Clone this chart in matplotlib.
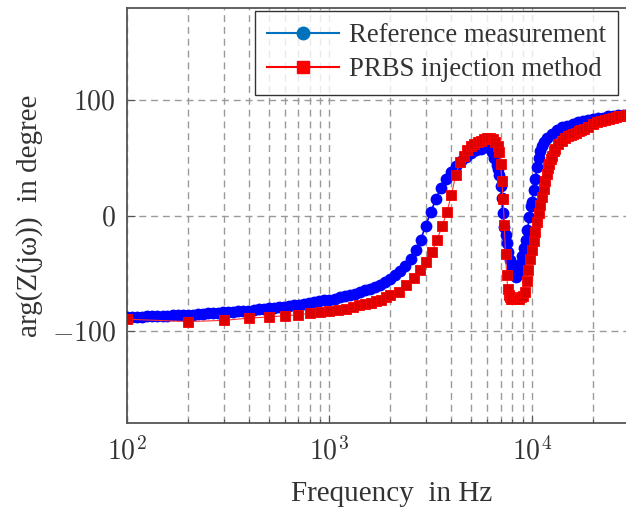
import math
import matplotlib
matplotlib.use("Agg")
import matplotlib.pyplot as plt
from matplotlib.lines import Line2D
from matplotlib.ticker import FixedLocator, FuncFormatter, LogLocator, NullFormatter

plt.rcParams['font.family'] = ['Liberation Serif', 'DejaVu Serif']
plt.rcParams['mathtext.fontset'] = 'cm'

# Reference measurement (blue)
ref_freq = [100, 106, 112, 119, 126, 133, 141, 150, 158, 168, 178, 188, 200, 211, 224, 237,
            251, 266, 282, 299, 316, 335, 355, 376, 398, 422, 447, 473, 501, 531, 562, 596,
            631, 668, 708, 750, 794, 841, 891, 944, 1000, 1059, 1122, 1189, 1259, 1334, 1413,
            1496, 1585, 1679, 1778, 1884, 1995, 2113, 2239, 2371, 2512, 2661, 2818, 2985, 3162,
            3350, 3548, 3758, 3981, 4217, 4467, 4732, 5012, 5309, 5623, 5957, 6310, 6500, 6683,
            6800, 6900, 7000, 7100, 7200, 7300, 7400, 7500, 7650, 7800, 7943, 8100, 8300, 8500,
            8700, 8900, 9100, 9300, 9500, 9700, 9900, 10000, 10200, 10400, 10600, 10800, 11000,
            11220, 11500, 11885, 12589, 13335, 14125, 14962, 15849, 16788, 17783, 18836, 19953,
            21135, 22387, 23714, 25119, 26607, 28184, 29854]
ref_phase = [-88, -88, -88, -88, -87.5, -87.5, -87, -87, -87, -86.5, -86.5, -86, -86, -86, -85.5, -85.5,
             -85, -85, -84.5, -84, -84, -83.5, -83, -83, -82.5, -82, -81.5, -81, -80.5, -80, -79.5, -79,
             -78.5, -78, -77.5, -76.5, -76, -75, -74.5, -73.5, -73, -72, -71, -70, -69, -68, -66.5,
             -65, -64, -62, -60, -58, -55, -52, -48, -44, -38, -30, -21, -9, 3,
             14, 24, 32, 38, 43, 47, 51, 54, 57, 58, 59, 55, 50, 44,
             40, 35, 26, 15, 2, -10, -17, -24, -32, -39, -45, -49, -53, -49,
             -42, -35, -28, -21, -13, -1, 8, 12, 22, 32, 42, 50, 56,
             60, 64, 67, 71, 74, 76.5, 78, 79.5, 81, 82, 83, 84,
             84.5, 85, 86, 86.5, 87, 87.5, 88]

# PRBS injection method (red)
prbs_freq = [100, 200, 300, 400, 500, 600, 700, 800, 900, 1000, 1100, 1200, 1300, 1400, 1500,
             1600, 1700, 1800, 1900, 2000, 2200, 2400, 2600, 2800, 3000, 3200, 3400, 3600, 3800,
             4000, 4200, 4400, 4600, 4800, 5000, 5200, 5400, 5600, 5800, 6000, 6200, 6400, 6600,
             6800, 6900, 7000, 7100, 7200, 7300, 7400, 7500, 7600, 7700, 7800, 7900, 8000, 8200,
             8400, 8600, 8800, 9000, 9200, 9400, 9600, 9800, 10000, 10200, 10400, 10600, 10800,
             11000, 11200, 11400, 11600, 11800, 12000, 12200, 12400, 12600, 12800, 13000, 13500,
             14000, 14500, 15000, 15500, 16000, 16500, 17000, 17500, 18000, 19000, 20000, 21000,
             22000, 23000, 24000, 25000, 26000, 27000, 28000, 29000, 30000]
prbs_phase = [-90, -92, -91, -89, -88, -87, -86, -85, -84, -83, -82, -81, -79, -78, -77,
              -76, -74, -73, -71, -69, -66, -60, -54, -47, -40, -32, -21, -9, 3,
              18, 35, 46, 52, 57, 60, 62, 64, 65, 66, 67, 67, 66, 64,
              60, 55, 45, 30, 14, -8, -33, -52, -64, -69, -71, -72, -72, -72,
              -72, -72, -71, -70, -66, -57, -47, -38, -30, -22, -14, -6, 2,
              9, 16, 23, 30, 36, 41, 45, 49, 52, 56, 58, 62,
              65, 67, 69, 70, 71, 72, 73, 74, 75, 77, 79, 81,
              82, 83, 84, 85, 85.5, 86, 86.5, 87, 87.5]

labels = ["Reference measurement", "PRBS injection method"]
y_ticks = [-100, 0, 100]

W, H = 626, 507
fig = plt.figure(figsize=(W / 100, H / 100), dpi=100)
left, right, top, bottom = 127, 657, 8, 423
ax = fig.add_axes([left / W, 1 - bottom / H, (right - left) / W, (bottom - top) / H])

ax.plot(ref_freq, ref_phase, color='#0000ff', lw=1.2, marker='o', ms=8.5,
        markeredgewidth=0, zorder=3)
ax.plot(prbs_freq, prbs_phase, color='#ff3030', lw=0.8, marker='s', ms=7.2,
        markerfacecolor='#dd0000', markeredgecolor='#ff0000', markeredgewidth=0.6, zorder=4)

ax.set_xscale('log')
ax.set_xlim(100, 10 ** (2 + (right - left) / 202.5))
ax.set_ylim(-180, 180)

ax.xaxis.set_major_locator(LogLocator(base=10, numticks=10))
ax.xaxis.set_minor_locator(LogLocator(base=10, subs=range(2, 10), numticks=20))
ax.xaxis.set_minor_formatter(NullFormatter())
ax.xaxis.set_major_formatter(FuncFormatter(lambda v, p: r'$10^{%d}$' % round(math.log10(v))))
ax.yaxis.set_major_locator(FixedLocator(y_ticks))
ax.yaxis.set_major_formatter(FuncFormatter(lambda v, p: r'$%d$' % v))

ax.grid(True, which='both', axis='x', color='#9a9a9a', lw=1.0, ls=(0, (5, 3.5)))
ax.grid(True, which='major', axis='y', color='#9a9a9a', lw=1.0, ls=(0, (5, 3.5)))
ax.set_axisbelow(True)

ax.tick_params(which='both', direction='in', colors='#555555', labelcolor='#333333',
               labelsize=20, width=0.8)
ax.tick_params(which='major', length=6, pad=8)
ax.tick_params(which='minor', length=3)
ax.tick_params(axis='x', which='major', pad=10)
for s in ['left', 'bottom', 'top']:
    ax.spines[s].set_color('#555555')
    ax.spines[s].set_linewidth(1.3)
ax.spines['right'].set_visible(False)

ax.set_xlabel("Frequency  in Hz", fontsize=21, color='#333333', labelpad=11)
ax.set_ylabel("arg(Z(jω))  in degree", fontsize=21, color='#333333', labelpad=6)

handles = [Line2D([], [], color='#0072bd', lw=1.5, marker='o', ms=9),
           Line2D([], [], color='#ff0000', lw=1.5, marker='s', ms=9)]
leg = fig.legend(handles, labels, loc='upper right', bbox_to_anchor=(618 / W, 1 - 11 / H),
                 fontsize=19.3, frameon=True, fancybox=False, edgecolor='black',
                 handlelength=2.7, handletextpad=0.35, labelspacing=0.35,
                 borderpad=0.45, borderaxespad=0)
leg.get_frame().set_linewidth(1.0)
for t in leg.get_texts():
    t.set_color('#333333')

fig.savefig('out.png', dpi=100)
